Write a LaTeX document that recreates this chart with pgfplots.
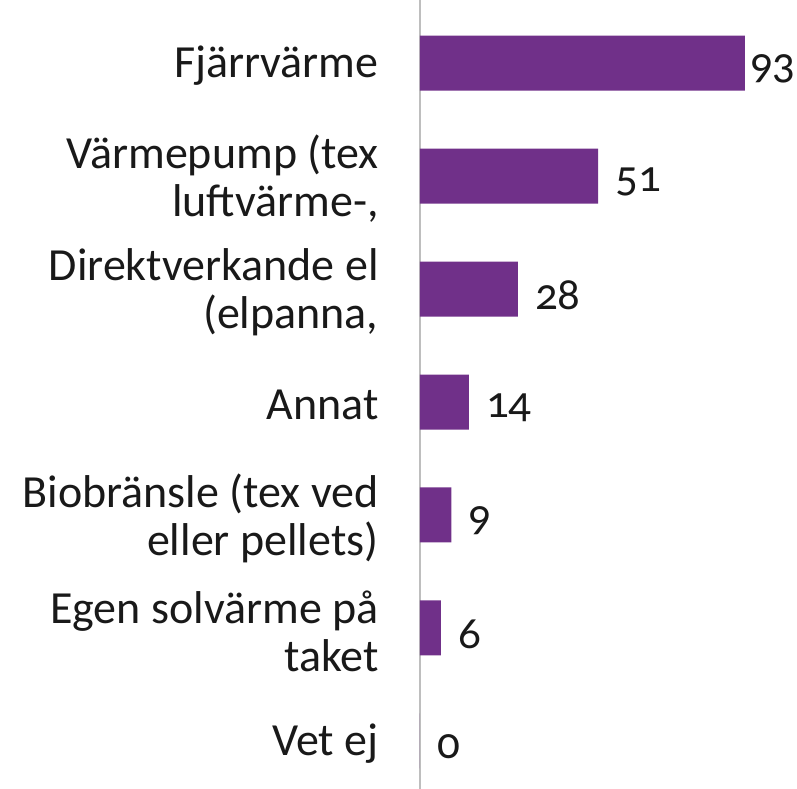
\documentclass[border=0pt]{standalone}
\usepackage{pgfplots}
\pgfplotsset{compat=1.18}
\usepackage{fontspec}
\setmainfont{Carlito}[Numbers=OldStyle]
\definecolor{barpurple}{RGB}{112,48,137}
\definecolor{axgrey}{RGB}{190,190,190}
\begin{document}
\begin{tikzpicture}
\path[use as bounding box] (-420bp,0) rectangle (377bp,789bp);
\begin{axis}[
  at={(0,0)}, anchor=south west,
  scale only axis,
  width=377bp, height=789bp,
  xmin=0, xmax=107.9,
  ymin=-0.425, ymax=6.558,
  axis x line=none,
  axis y line*=left,
  y axis line style={draw=axgrey, line width=2bp, -},
  ytick={0,1,2,3,4,5,6},
  yticklabels={Vet ej, {Egen solvärme på\\taket}, {Biobränsle (tex ved\\eller pellets)}, Annat, {Direktverkande el\\(elpanna,}, {Värmepump (tex\\luftvärme-,}, Fjärrvärme},
  ytick style={draw=none},
  yticklabel style={font=\fontsize{46bp}{48bp}\selectfont, align=right, inner sep=0pt, xshift=-37bp, yshift=-3bp, text=black!90},
  /pgf/number format/assume math mode=true,
  xbar, bar width=55bp, bar shift=0pt,
  visualization depends on={value \thisrow{sh} \as \sh},
  nodes near coords,
  nodes near coords style={font=\fontsize{45bp}{48bp}\selectfont, anchor=west, inner sep=0pt, xshift=\sh, yshift=-6bp, text=black!90},
  clip=false,
]
\addplot[fill=barpurple, draw=none] table[x=v, y=k] {
k v sh
0 0 17bp
1 6 17bp
2 9 17bp
3 14 17bp
4 28 17bp
5 51 17bp
6 93 5bp
};
\end{axis}
\end{tikzpicture}
\end{document}
